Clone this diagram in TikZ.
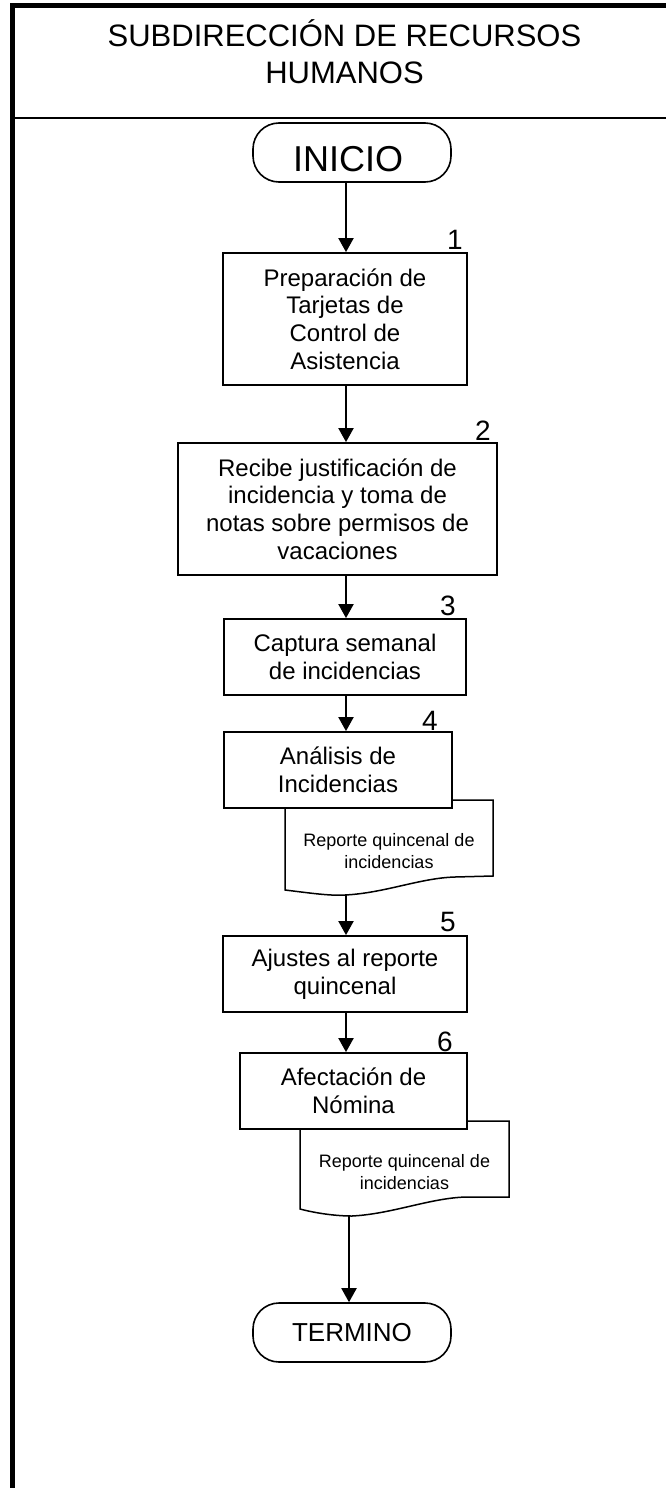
\documentclass[tikz,border=0pt]{standalone}
\usepackage{fontspec}
\setmainfont{Liberation Sans}
\usetikzlibrary{arrows.meta}
\begin{document}
\begin{tikzpicture}[x=1pt,y=-1pt,
  stepbox/.style={draw, line width=1.8pt, fill=white, align=center, font=\fontsize{24}{27.6}\selectfont, inner sep=0pt},
  term/.style={draw, line width=1.6pt, rounded corners=26pt, fill=white, inner sep=0pt},
  docshape/.style={draw, line width=1.5pt, fill=white},
  doctext/.style={align=center, font=\fontsize{18}{22}\selectfont, inner sep=0pt},
  num/.style={font=\fontsize{28}{28}\selectfont, inner sep=0pt},
  arr/.style={line width=2pt, -{Triangle[length=14pt,width=15pt]}},
  frameline/.style={line width=5pt}
]
\useasboundingbox (0,0) rectangle (665,1488);
% frame
\draw[frameline] (667,6) -- (12.5,6) -- (12.5,1492);
\draw[line width=2.5pt] (12.5,118) -- (667,118);
\node[align=center, font=\fontsize{31}{37}\selectfont, inner sep=0pt] (title) at (344.5,51.5) {SUBDIRECCIÓN DE RECURSOS\\HUMANOS};
% axis
\coordinate (ax) at (346,0);
% start
\node[term, minimum width=198pt, minimum height=59pt] (inicio) at (352,152.5) {};
\node[font=\fontsize{36}{36}\selectfont, inner sep=0pt] (iniciotxt) at (348,159.5) {INICIO};
% documents (behind boxes)
\draw[docshape] (285,800) -- (493,800) -- (493,876) -- (455,877) .. controls (420,878) and (385,893) .. (345,895) .. controls (330,896) and (310,893) .. (285,890) -- cycle;
\coordinate (d1b) at (346,895);
\node[doctext] (d1t) at (389,851) {Reporte quincenal de\\incidencias};
\draw[docshape] (300,1121) -- (509,1121) -- (509,1197) -- (466,1197) .. controls (430,1198) and (392,1214) .. (352,1216) .. controls (335,1216) and (315,1213) .. (300,1209) -- cycle;
\coordinate (d2b) at (349,1216);
\node[doctext] (d2t) at (404.5,1172) {Reporte quincenal de\\incidencias};
% steps
\node[stepbox, minimum width=244pt, minimum height=132pt] (b1) at (345,319) {Preparación de\\Tarjetas de\\Control de\\Asistencia};
\node[stepbox, minimum width=319pt, minimum height=132pt] (b2) at (337.5,509) {Recibe justificación de\\incidencia y toma de\\notas sobre permisos de\\vacaciones};
\node[stepbox, minimum width=242pt, minimum height=76pt] (b3) at (345,657) {Captura semanal\\de incidencias};
\node[stepbox, minimum width=228pt, minimum height=76pt] (b4) at (338,770) {Análisis de\\Incidencias};
\node[stepbox, minimum width=244pt, minimum height=76pt] (b5) at (345,974) {Ajustes al reporte\\quincenal};
\node[stepbox, minimum width=227pt, minimum height=76pt] (b6) at (353.5,1091) {Afectación de\\Nómina};
\node[term, minimum width=198pt, minimum height=59pt, font=\fontsize{26}{26}\selectfont] (termino) at (352,1332.5) {TERMINO};
% numbers
\node[num] (n1) at (455,240) {1};
\node[num] (n2) at (483,431) {2};
\node[num] (n3) at (448,606) {3};
\node[num] (n4) at (430,721) {4};
\node[num] (n5) at (448,922) {5};
\node[num] (n6) at (445,1042) {6};
% connectors
\draw[arr] (inicio.south -| ax) -- (b1.north -| ax);
\draw[arr] (b1.south -| ax) -- (b2.north -| ax);
\draw[arr] (b2.south -| ax) -- (b3.north -| ax);
\draw[arr] (b3.south -| ax) -- (b4.north -| ax);
\draw[arr] (d1b) -- (b5.north -| d1b);
\draw[arr] (b5.south -| ax) -- (b6.north -| ax);
\draw[arr] (d2b) -- (termino.north -| d2b);
\end{tikzpicture}
\end{document}
